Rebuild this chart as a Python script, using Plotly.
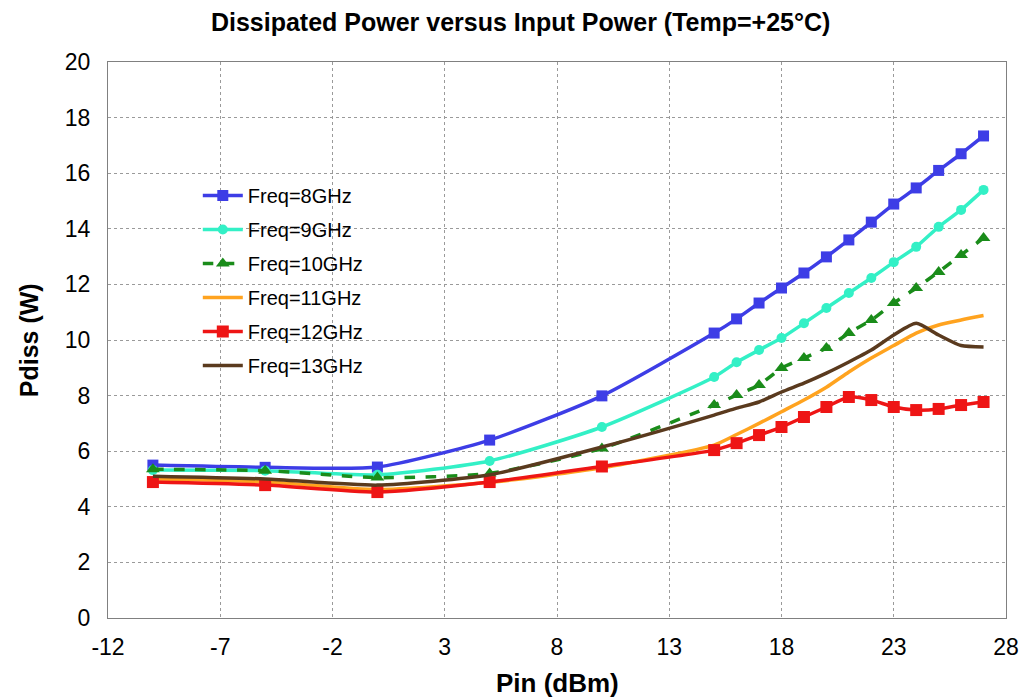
import plotly.graph_objects as go

pin = [-10, -5, 0, 5, 10, 15, 16, 17, 18, 19, 20, 21, 22, 23, 24, 25, 26, 27]

f8 = [5.5, 5.42, 5.43, 6.4, 7.99, 10.25, 10.76, 11.33, 11.87, 12.41, 12.99, 13.6, 14.24, 14.89, 15.47, 16.1, 16.7, 17.34]
f9 = [5.32, 5.3, 5.15, 5.65, 6.87, 8.67, 9.2, 9.64, 10.07, 10.6, 11.15, 11.69, 12.23, 12.8, 13.35, 14.07, 14.68, 15.4]
f10 = [5.35, 5.3, 5.05, 5.2, 6.1, 7.66, 8.02, 8.38, 8.99, 9.35, 9.71, 10.25, 10.72, 11.33, 11.87, 12.45, 13.06, 13.67]
f11 = [5.0, 4.9, 4.62, 4.88, 5.4, 6.22, 6.6, 7.0, 7.42, 7.84, 8.3, 8.85, 9.35, 9.8, 10.25, 10.54, 10.72, 10.88]
f12 = [4.89, 4.78, 4.53, 4.89, 5.45, 6.04, 6.29, 6.58, 6.87, 7.23, 7.59, 7.95, 7.84, 7.59, 7.48, 7.52, 7.66, 7.77]
f13 = [5.1, 5.0, 4.78, 5.15, 6.15, 7.3, 7.55, 7.77, 8.13, 8.45, 8.81, 9.21, 9.64, 10.18, 10.6, 10.18, 9.8, 9.75]

names = ["Freq=8GHz", "Freq=9GHz", "Freq=10GHz", "Freq=11GHz", "Freq=12GHz", "Freq=13GHz"]
x_ticks = [-12, -7, -2, 3, 8, 13, 18, 23, 28]
x_tick_text = ["-12", "-7", "-2", "3", "8", "13", "18", "23", "28"]
y_ticks = [0, 2, 4, 6, 8, 10, 12, 14, 16, 18, 20]

series = [f8, f9, f10, f11, f12, f13]
colors = ["#3d3de6", "#33f0c6", "#1a8c1a", "#ffa31f", "#ee1515", "#5a3a1e"]
dashes = ["solid", "solid", "dash", "solid", "solid", "solid"]
symbols = ["square", "circle", "triangle-up", None, "square", None]
msizes = [11, 10, 12, 0, 12, 0]

fig = go.Figure()
for i, (n, s, c) in enumerate(zip(names, series, colors)):
    kw = dict(
        x=pin, y=s, name=n, legendgroup=n,
        line=dict(color=c, width=3.5, dash=dashes[i], shape="spline", smoothing=0.6),
    )
    if symbols[i]:
        kw["mode"] = "lines+markers"
        kw["marker"] = dict(symbol=symbols[i], size=msizes[i], color=c)
    else:
        kw["mode"] = "lines"
    fig.add_trace(go.Scatter(**kw))

font_main = "Liberation Sans Narrow, Arial Narrow, Liberation Sans, Arial, sans-serif"

fig.update_layout(
    width=1031, height=700,
    paper_bgcolor="white", plot_bgcolor="white",
    margin=dict(l=108, r=22, t=62, b=82),
    title=dict(
        text="<b>Dissipated Power versus Input Power (Temp=+25°C)</b>",
        x=0.505, xanchor="center", y=0.968, yanchor="middle",
        font=dict(family=font_main, size=25, color="black"),
    ),
    showlegend=True,
    legend=dict(
        x=0.1, y=0.795, xanchor="left", yanchor="top",
        bgcolor="rgba(255,255,255,0)", borderwidth=0,
        font=dict(family="Liberation Sans, Arial, sans-serif", size=20, color="black"),
        tracegroupgap=5, itemwidth=40,
    ),
    xaxis=dict(
        range=[-12, 28], tickvals=x_ticks, ticktext=x_tick_text,
        showgrid=True, gridcolor="#9a9a9a", griddash="dot", gridwidth=1,
        showline=True, linecolor="#808080", linewidth=1, mirror=True,
        ticks="", zeroline=False, ticklabelstandoff=8,
        tickfont=dict(family=font_main, size=23, color="black"),
    ),
    yaxis=dict(
        range=[0, 20], tickvals=y_ticks,
        showgrid=True, gridcolor="#9a9a9a", griddash="dot", gridwidth=1,
        showline=True, linecolor="#808080", linewidth=1, mirror=True,
        ticks="", zeroline=False, ticklabelstandoff=12,
        tickfont=dict(family=font_main, size=23, color="black"),
    ),
    annotations=[
        dict(text="<b>Pin (dBm)</b>", xref="paper", yref="paper", x=0.5, y=-0.117,
             xanchor="center", yanchor="middle", showarrow=False,
             font=dict(family=font_main, size=26, color="black")),
        dict(text="<b>Pdiss (W)</b>", xref="paper", yref="paper", x=-0.0877, y=0.5,
             xanchor="center", yanchor="middle", textangle=-90, showarrow=False,
             font=dict(family=font_main, size=25, color="black")),
    ],
)

fig.write_html("out.html")
